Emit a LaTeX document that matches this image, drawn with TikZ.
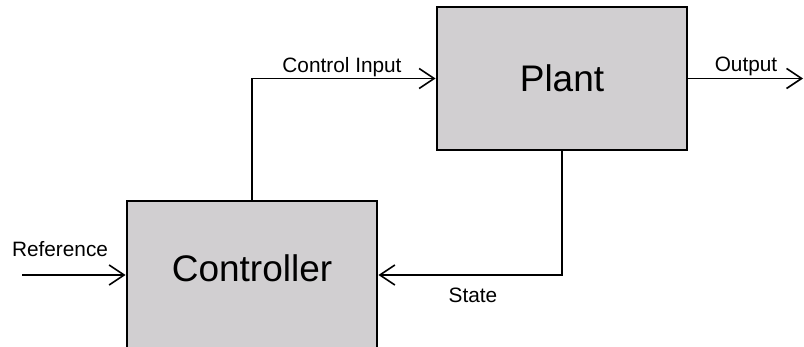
\documentclass[tikz,border=0pt]{standalone}
\usepackage{fontspec}
\setmainfont{Liberation Sans}
\usetikzlibrary{arrows.meta}
\definecolor{boxgrey}{RGB}{209,207,209}
\tikzset{
  block/.style={draw=black, fill=boxgrey, line width=1.4pt, minimum width=125pt, inner sep=0pt, font=\fontsize{18.5}{20}\selectfont},
  conn/.style={draw=black, line width=0.8pt, -{Straight Barb[length=7.5pt, width=10pt, line width=0.8pt]}},
  lbl/.style={anchor=base, inner sep=0pt, font=\fontsize{10.4}{12}\selectfont}
}
\begin{document}
\begin{tikzpicture}[x=0.5pt, y=-0.5pt]
  \clip (0,0) rectangle (804,347);
  \node[block, minimum height=71.5pt] (plant) at (562,78.5) {Plant};
  \node[block, minimum height=74pt, text depth=6.5pt] (ctrl) at (252,275) {Controller};
  \coordinate (refin) at (22,275);
  \coordinate (outend) at (803,78.5);
  \draw[conn] (refin) -- (ctrl.west);
  \draw[conn] (ctrl.north) |- (plant.west);
  \draw[conn] (plant.east) -- (outend);
  \draw[conn] (plant.south) |- (ctrl.east);
  \node[lbl] (lref) at (60,257) {Reference};
  \node[lbl] (lci) at (342,73) {Control Input};
  \node[lbl] (lout) at (746,72) {Output};
  \node[lbl] (lstate) at (473,303) {State};
\end{tikzpicture}
\end{document}
